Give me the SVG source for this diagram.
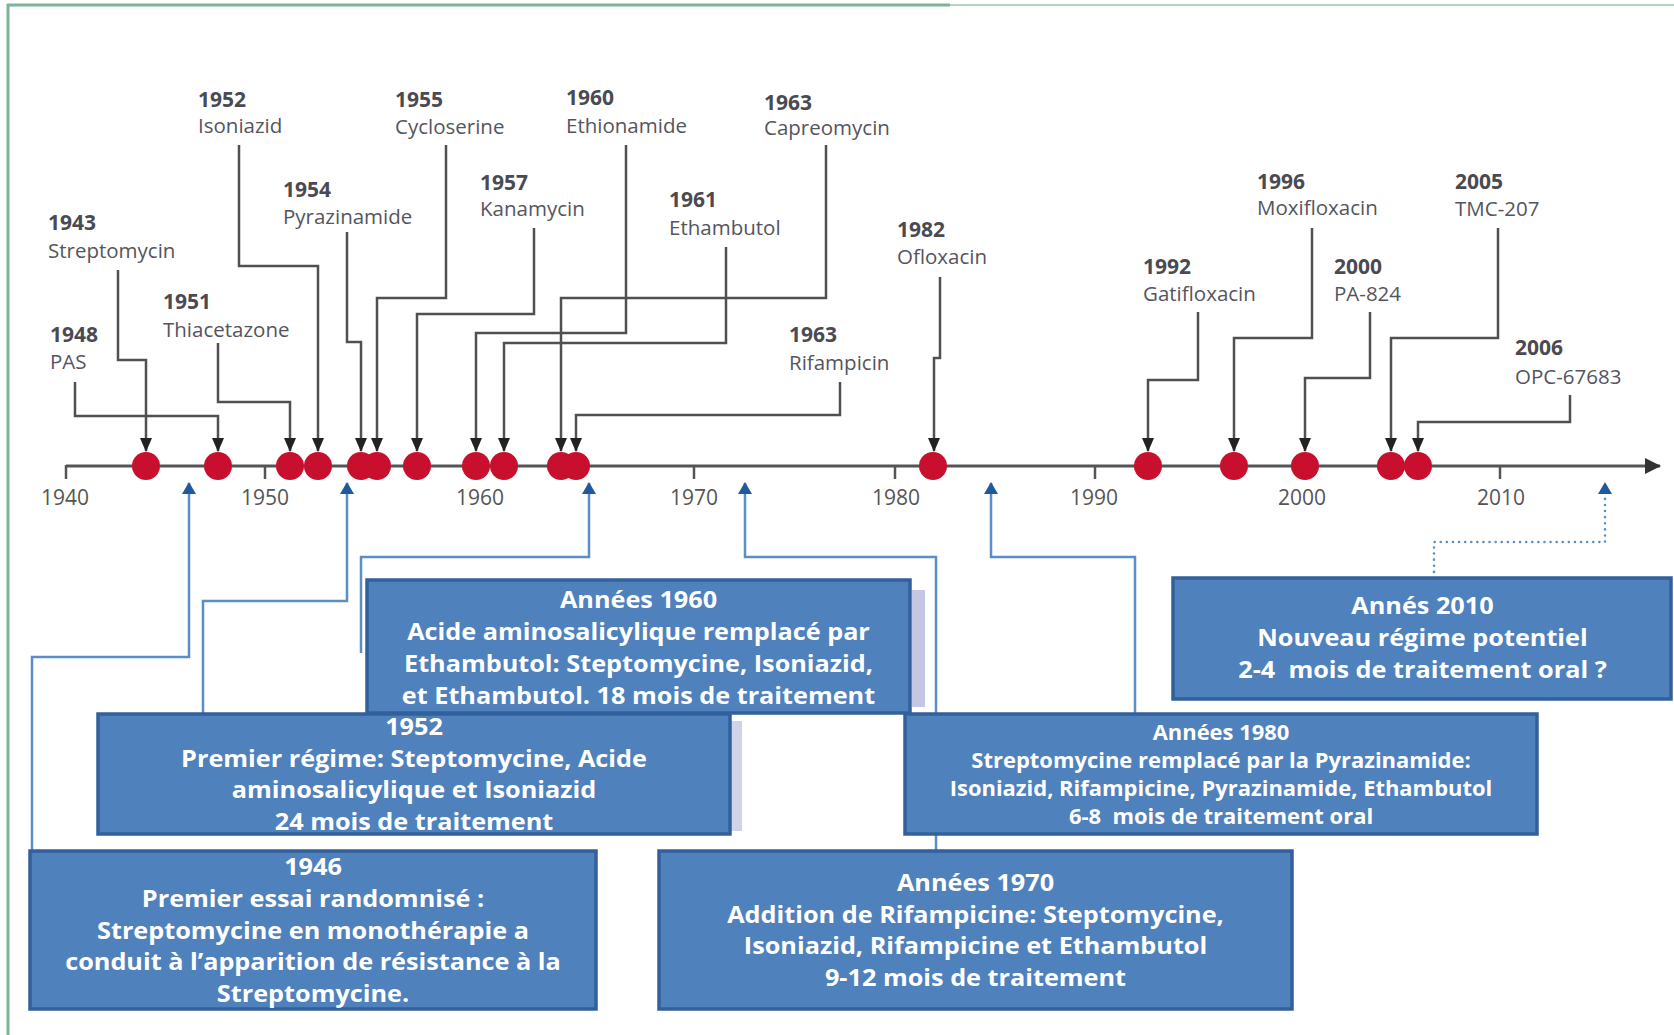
<svg xmlns="http://www.w3.org/2000/svg" width="1674" height="1035" viewBox="0 0 1674 1035">
<style>
.yr{font-family:"Open Sans","Liberation Sans",sans-serif;font-weight:700;font-size:21px;fill:#4a4a52}
.nm{font-family:"Open Sans","Liberation Sans",sans-serif;font-weight:400;font-size:20.5px;fill:#55555d}
.tk{font-family:"Open Sans","Liberation Sans",sans-serif;font-weight:400;font-size:21px;fill:#555;text-anchor:middle}
.lead{stroke:#505050;stroke-width:2.5;fill:none;marker-end:url(#ah)}
.blue{stroke:#5a8ec6;stroke-width:2.5;fill:none;marker-end:url(#bh)}
.dot{fill:#c8102e}
.box{fill:#4f81bd;stroke:#33609a;stroke-width:3.5}
.bt{font-family:"Open Sans","Liberation Sans",sans-serif;font-weight:700;font-size:24px;fill:#fff;text-anchor:middle}
.bt2{font-family:"Open Sans","Liberation Sans",sans-serif;font-weight:700;font-size:21px;fill:#fff;text-anchor:middle}
.tick{stroke:#555;stroke-width:2.5}
</style>
<defs>
<marker id="ah" viewBox="0 0 14 12" refX="13" refY="6" markerWidth="14" markerHeight="12" markerUnits="userSpaceOnUse" orient="auto"><path d="M0,0 L14,6 L0,12 z" fill="#222"/></marker>
<marker id="bh" viewBox="0 0 12 14" refX="11" refY="7" markerWidth="12" markerHeight="14" markerUnits="userSpaceOnUse" orient="auto"><path d="M0,0 L12,7 L0,14 z" fill="#1f5a9e"/></marker>
<marker id="axh" viewBox="0 0 16 16" refX="15" refY="8" markerWidth="16" markerHeight="16" markerUnits="userSpaceOnUse" orient="auto"><path d="M0,0 L16,8 L0,16 z" fill="#333"/></marker>
</defs>
<rect width="1674" height="1035" fill="#fff"/>
<g id="frame">
<line x1="8" y1="4" x2="8" y2="1035" stroke="#7cb597" stroke-width="3"/>
<line x1="7" y1="5" x2="950" y2="5" stroke="#7cb597" stroke-width="3"/>
<line x1="950" y1="5" x2="1674" y2="5" stroke="#b5d5c3" stroke-width="2"/>
</g>
<g id="timeline">
<line x1="66" y1="466" x2="1660" y2="466" stroke="#555" stroke-width="3" marker-end="url(#axh)"/>
<line class="tick" x1="66" y1="465" x2="66" y2="479"/>
<line class="tick" x1="265" y1="466" x2="265" y2="479"/>
<line class="tick" x1="478" y1="466" x2="478" y2="479"/>
<line class="tick" x1="694" y1="466" x2="694" y2="479"/>
<line class="tick" x1="895" y1="466" x2="895" y2="479"/>
<line class="tick" x1="1095" y1="466" x2="1095" y2="479"/>
<line class="tick" x1="1302" y1="466" x2="1302" y2="479"/>
<line class="tick" x1="1500" y1="466" x2="1500" y2="479"/>
<text class="tk" x="65" y="505">1940</text>
<text class="tk" x="265" y="505">1950</text>
<text class="tk" x="480" y="505">1960</text>
<text class="tk" x="694" y="505">1970</text>
<text class="tk" x="896" y="505">1980</text>
<text class="tk" x="1094" y="505">1990</text>
<text class="tk" x="1302" y="505">2000</text>
<text class="tk" x="1501" y="505">2010</text>
</g>
<g id="connectors">
<path class="lead" d="M118,270 V360 H146 V451"/>
<path class="lead" d="M75,382 V416 H218 V451"/>
<path class="lead" d="M218,343 V402 H290 V451"/>
<path class="lead" d="M239,145 V266 H318 V451"/>
<path class="lead" d="M347,232 V342 H361 V451"/>
<path class="lead" d="M446,145 V298 H377 V451"/>
<path class="lead" d="M534,228 V314 H417 V451"/>
<path class="lead" d="M626,145 V333 H476 V451"/>
<path class="lead" d="M726,247 V343 H504 V451"/>
<path class="lead" d="M826,145 V298 H561 V451"/>
<path class="lead" d="M840,382 V415 H576 V451"/>
<path class="lead" d="M940,277 V358 H934 V451"/>
<path class="lead" d="M1198,312 V380 H1148 V451"/>
<path class="lead" d="M1312,228 V338 H1234 V451"/>
<path class="lead" d="M1370,312 V378 H1305 V451"/>
<path class="lead" d="M1498,228 V338 H1391 V451"/>
<path class="lead" d="M1570,395 V422 H1418 V451"/>
<path class="blue" d="M32,851 V657 H189 V483"/>
<path class="blue" d="M203,714 V601 H347 V483"/>
<path class="blue" d="M361,653 V557 H589 V483"/>
<path class="blue" d="M936,851 V557 H745 V483"/>
<path class="blue" d="M1135,714 V557 H991 V483"/>
<path class="blue" d="M1434,578 V542 H1605 V483" stroke-dasharray="0.1 6" stroke-linecap="round" stroke-width="3"/>
</g>
<g id="dots">
<circle class="dot" cx="146" cy="466" r="14"/>
<circle class="dot" cx="218" cy="466" r="14"/>
<circle class="dot" cx="290" cy="466" r="14"/>
<circle class="dot" cx="318" cy="466" r="14"/>
<circle class="dot" cx="361" cy="466" r="14"/>
<circle class="dot" cx="377" cy="466" r="14"/>
<circle class="dot" cx="417" cy="466" r="14"/>
<circle class="dot" cx="476" cy="466" r="14"/>
<circle class="dot" cx="504" cy="466" r="14"/>
<circle class="dot" cx="561" cy="466" r="14"/>
<circle class="dot" cx="576" cy="466" r="14"/>
<circle class="dot" cx="933" cy="466" r="14"/>
<circle class="dot" cx="1148" cy="466" r="14"/>
<circle class="dot" cx="1234" cy="466" r="14"/>
<circle class="dot" cx="1305" cy="466" r="14"/>
<circle class="dot" cx="1391" cy="466" r="14"/>
<circle class="dot" cx="1418" cy="466" r="14"/>
</g>
<g id="drug-1943"><text class="yr" x="48" y="230">1943</text><text class="nm" x="48" y="258">Streptomycin</text></g>
<g id="drug-1948"><text class="yr" x="50" y="342">1948</text><text class="nm" x="50" y="369">PAS</text></g>
<g id="drug-1951"><text class="yr" x="163" y="309">1951</text><text class="nm" x="163" y="337">Thiacetazone</text></g>
<g id="drug-1952"><text class="yr" x="198" y="107">1952</text><text class="nm" x="198" y="133">Isoniazid</text></g>
<g id="drug-1954"><text class="yr" x="283" y="197">1954</text><text class="nm" x="283" y="224">Pyrazinamide</text></g>
<g id="drug-1955"><text class="yr" x="395" y="107">1955</text><text class="nm" x="395" y="134">Cycloserine</text></g>
<g id="drug-1957"><text class="yr" x="480" y="190">1957</text><text class="nm" x="480" y="216">Kanamycin</text></g>
<g id="drug-1960"><text class="yr" x="566" y="105">1960</text><text class="nm" x="566" y="133">Ethionamide</text></g>
<g id="drug-1961"><text class="yr" x="669" y="207">1961</text><text class="nm" x="669" y="235">Ethambutol</text></g>
<g id="drug-1963-capreomycin"><text class="yr" x="764" y="110">1963</text><text class="nm" x="764" y="135">Capreomycin</text></g>
<g id="drug-1963-rifampicin"><text class="yr" x="789" y="342">1963</text><text class="nm" x="789" y="370">Rifampicin</text></g>
<g id="drug-1982"><text class="yr" x="897" y="237">1982</text><text class="nm" x="897" y="264">Ofloxacin</text></g>
<g id="drug-1992"><text class="yr" x="1143" y="274">1992</text><text class="nm" x="1143" y="301">Gatifloxacin</text></g>
<g id="drug-1996"><text class="yr" x="1257" y="189">1996</text><text class="nm" x="1257" y="215">Moxifloxacin</text></g>
<g id="drug-2000"><text class="yr" x="1334" y="274">2000</text><text class="nm" x="1334" y="301">PA-824</text></g>
<g id="drug-2005"><text class="yr" x="1455" y="189">2005</text><text class="nm" x="1455" y="216">TMC-207</text></g>
<g id="drug-2006"><text class="yr" x="1515" y="355">2006</text><text class="nm" x="1515" y="384">OPC-67683</text></g>
<g id="box-1960">
<rect x="912" y="590" width="13" height="117" fill="#c5c6e3"/>
<rect class="box" x="367" y="580" width="543" height="133"/>
<g transform="translate(638.5 0) scale(1.052 1)">
<text class="bt" x="0" y="608">Années 1960</text>
<text class="bt" x="0" y="640">Acide aminosalicylique remplacé par</text>
<text class="bt" x="0" y="672">Ethambutol: Steptomycine, Isoniazid,</text>
<text class="bt" x="0" y="704">et Ethambutol. 18 mois de traitement</text>
</g>
</g>
<g id="box-1952">
<rect x="731" y="721" width="11" height="110" fill="#d0d3ea"/>
<rect class="box" x="98" y="714" width="632" height="120"/>
<g transform="translate(414 0) scale(1.052 1)">
<text class="bt" x="0" y="735">1952</text>
<text class="bt" x="0" y="767">Premier régime: Steptomycine, Acide</text>
<text class="bt" x="0" y="798">aminosalicylique et Isoniazid</text>
<text class="bt" x="0" y="830">24 mois de traitement</text>
</g>
</g>
<g id="box-1980">
<rect class="box" x="905" y="714" width="632" height="120"/>
<g transform="translate(1221 0) scale(1.046 1)">
<text class="bt2" x="0" y="740">Années 1980</text>
<text class="bt2" x="0" y="768">Streptomycine remplacé par la Pyrazinamide:</text>
<text class="bt2" x="0" y="796">Isoniazid, Rifampicine, Pyrazinamide, Ethambutol</text>
<text class="bt2" x="0" y="824" xml:space="preserve">6-8  mois de traitement oral</text>
</g>
</g>
<g id="box-2010">
<rect class="box" x="1173" y="578" width="498" height="121"/>
<g transform="translate(1422.5 0) scale(1.052 1)">
<text class="bt" x="0" y="614">Annés 2010</text>
<text class="bt" x="0" y="646">Nouveau régime potentiel</text>
<text class="bt" x="0" y="678" xml:space="preserve">2-4  mois de traitement oral ?</text>
</g>
</g>
<g id="box-1946">
<rect class="box" x="30" y="851" width="566" height="158"/>
<g transform="translate(313 0) scale(1.052 1)">
<text class="bt" x="0" y="875">1946</text>
<text class="bt" x="0" y="907">Premier essai randomnisé :</text>
<text class="bt" x="0" y="939">Streptomycine en monothérapie a</text>
<text class="bt" x="0" y="970">conduit à l’apparition de résistance à la</text>
<text class="bt" x="0" y="1002">Streptomycine.</text>
</g>
</g>
<g id="box-1970">
<rect class="box" x="659" y="851" width="633" height="158"/>
<g transform="translate(975.5 0) scale(1.052 1)">
<text class="bt" x="0" y="891">Années 1970</text>
<text class="bt" x="0" y="923">Addition de Rifampicine: Steptomycine,</text>
<text class="bt" x="0" y="954">Isoniazid, Rifampicine et Ethambutol</text>
<text class="bt" x="0" y="986">9-12 mois de traitement</text>
</g>
</g>
</svg>
